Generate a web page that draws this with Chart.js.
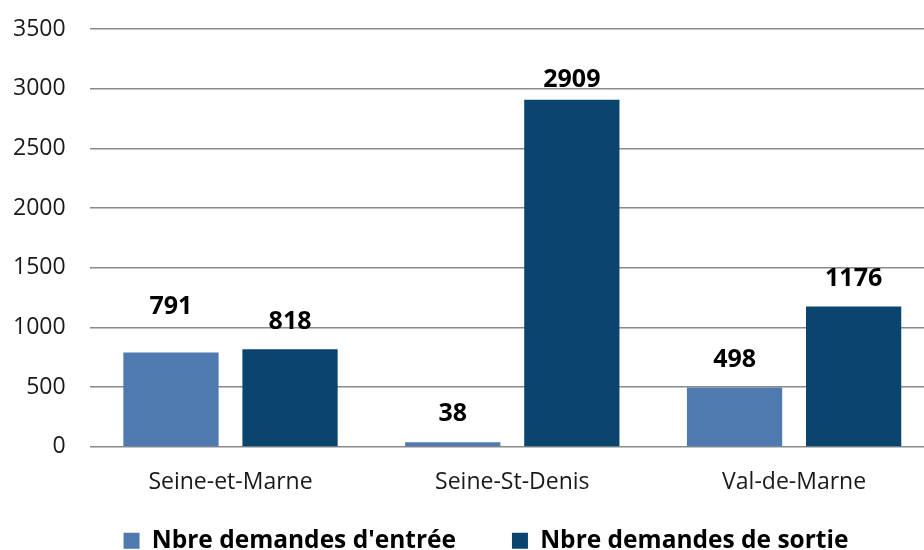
<!DOCTYPE html>
<html>
<head>
<meta charset="utf-8">
<script src="https://cdn.jsdelivr.net/npm/chart.js@4"></script>
<style>
html,body{margin:0;padding:0;background:#fff;overflow:hidden;}
#wrap{width:924px;height:550px;position:relative;overflow:hidden;}
canvas{display:block;}
</style>
</head>
<body>
<div id="wrap"><canvas id="c" width="935" height="550"></canvas></div>
<script>
const categories = ["Seine-et-Marne", "Seine-St-Denis", "Val-de-Marne"];
const seriesNames = ["Nbre demandes d'entrée", "Nbre demandes de sortie"];
const entrees = [791, 38, 498];
const sorties = [818, 2909, 1176];

const labelPlugin = {
  id: 'barLabels',
  beforeInit(chart, args, opts) {
    const lg = chart.legend;
    if (lg) {
      const origFit = lg.fit;
      lg.fit = function () {
        origFit.call(this);
        this.height = Math.max(0, this.height - opts.legendShrink);
      };
      lg.draw = function () {
        if (this.options.display) this._draw();
      };
    }
  },
  afterLayout(chart, args, opts) {
    if (chart.legend) {
      chart.legend.left += opts.legendShift;
      chart.legend.right += opts.legendShift;
      chart.legend.top += opts.legendDY;
      chart.legend.bottom += opts.legendDY;
    }
  },
  afterDatasetsDraw(chart, args, opts) {
    const ctx = chart.ctx;
    ctx.save();
    ctx.font = opts.font;
    ctx.fillStyle = opts.color;
    ctx.textAlign = 'center';
    ctx.textBaseline = 'middle';
    chart.data.datasets.forEach((ds, di) => {
      const meta = chart.getDatasetMeta(di);
      meta.data.forEach((bar, i) => {
        const extra = (opts.nudge[di] && opts.nudge[di][i]) || 0;
        ctx.fillText(String(ds.data[i]), bar.x, bar.y - opts.offset + extra);
      });
    });
    ctx.restore();
  }
};

new Chart(document.getElementById('c'), {
  type: 'bar',
  data: {
    labels: categories,
    datasets: [
      { label: seriesNames[0], data: entrees, backgroundColor: '#4f7aaf', barPercentage: 0.8, categoryPercentage: 0.845 },
      { label: seriesNames[1], data: sorties, backgroundColor: '#0a4570', barPercentage: 0.8, categoryPercentage: 0.845 }
    ]
  },
  options: {
    responsive: false,
    animation: false,
    events: [],
    layout: { padding: { left: -11, right: 0, top: 2, bottom: -13 } },
    scales: {
      y: {
        min: 0, max: 3500,
        ticks: { stepSize: 500, padding: 24, color: '#1a1a1a', font: { family: 'Open Sans', size: 23, lineHeight: 0.45 },
                 callback: (v) => String(v) },
        grid: { color: '#8a8a8a', lineWidth: 1.5, drawTicks: false },
        border: { display: false }
      },
      x: {
        ticks: { padding: 14, color: '#1a1a1a', font: { family: 'Open Sans', size: 23 } },
        grid: { display: false },
        border: { display: false }
      }
    },
    plugins: {
      legend: {
        position: 'bottom',
        labels: {
          boxWidth: 16, boxHeight: 16, padding: 56,
          color: '#000',
          font: { family: 'Open Sans', size: 24.5, weight: 'bold' }
        }
      },
      tooltip: { enabled: false },
      barLabels: { font: 'bold 25px "Open Sans"', color: '#000', offset: 28,
                   nudge: { 0: { 0: -18 }, 1: { 0: 1, 1: 8 } },
                   legendShrink: 38, legendShift: 24, legendDY: -38 }
    }
  },
  plugins: [labelPlugin]
});
</script>
</body>
</html>
